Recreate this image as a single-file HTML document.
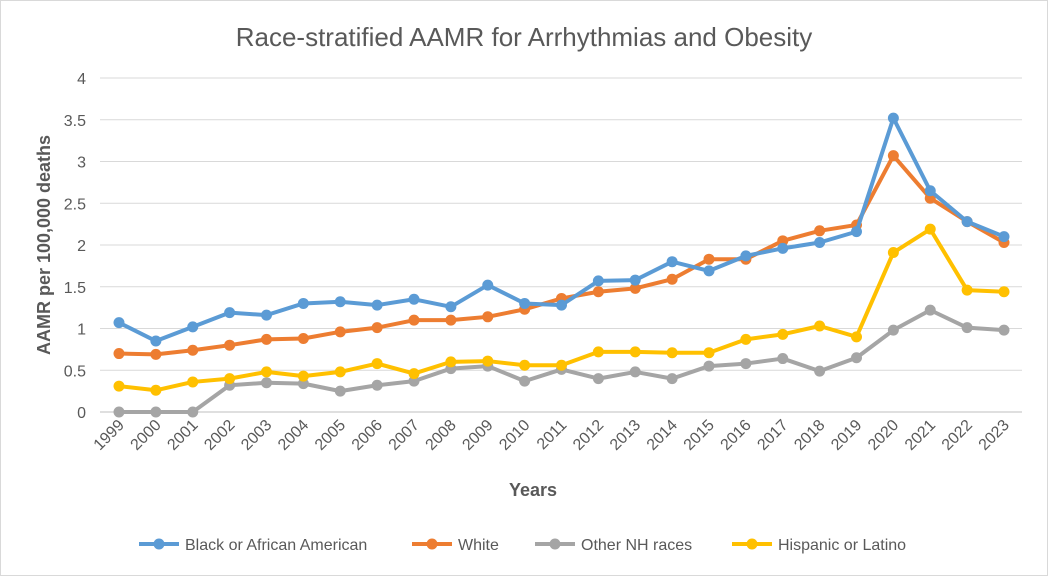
<!DOCTYPE html>
<html><head><meta charset="utf-8"><style>
html,body{margin:0;padding:0;background:#fff}
svg{display:block;font-family:"Liberation Sans",Calibri,sans-serif}
</style></head><body>
<svg id="c" width="1048" height="576" xmlns="http://www.w3.org/2000/svg">
<rect x="0.5" y="0.5" width="1047" height="575" fill="#fff" stroke="#d9d9d9"/>
<text x="524" y="46" text-anchor="middle" font-size="26" fill="#595959">Race-stratified AAMR for Arrhythmias and Obesity</text>
<text transform="translate(50,245) rotate(-90)" text-anchor="middle" font-size="18" font-weight="bold" fill="#595959">AAMR per 100,000 deaths</text>
<text x="533" y="496" text-anchor="middle" font-size="18" font-weight="bold" fill="#595959">Years</text>
<g id="g"></g>
</svg>
<script>
var g=document.getElementById('g'),h='';
function Y(v){return 412-v*83.5}function X(i){return 119+i*36.875}
for(var k=0;k<=8;k++){var v=k/2,y=Y(v);h+='<line x1="100" x2="1022" y1="'+y+'" y2="'+y+'" stroke="'+(k==0?'#bfbfbf':'#d9d9d9')+'"/>';
h+='<text x="86" y="'+(y+6)+'" text-anchor="end" font-size="16" fill="#595959">'+v+'</text>';}
for(var i=0;i<25;i++){var x=X(i);h+='<text transform="translate('+(x+6)+',426) rotate(-45)" text-anchor="end" font-size="16" fill="#595959">'+(1999+i)+'</text>';}
var S=[
["#5b9bd5",[1.07,0.85,1.02,1.19,1.16,1.30,1.32,1.28,1.35,1.26,1.52,1.30,1.28,1.57,1.58,1.80,1.69,1.87,1.96,2.03,2.16,3.52,2.65,2.28,2.10],"Black or African American"],
["#ed7d31",[0.70,0.69,0.74,0.80,0.87,0.88,0.96,1.01,1.10,1.10,1.14,1.23,1.36,1.44,1.48,1.59,1.83,1.83,2.05,2.17,2.24,3.07,2.56,2.28,2.03],"White"],
["#a5a5a5",[0,0,0,0.32,0.35,0.34,0.25,0.32,0.37,0.52,0.55,0.37,0.51,0.40,0.48,0.40,0.55,0.58,0.64,0.49,0.65,0.98,1.22,1.01,0.98],"Other NH races"],
["#ffc000",[0.31,0.26,0.36,0.40,0.48,0.43,0.48,0.58,0.46,0.60,0.61,0.56,0.56,0.72,0.72,0.71,0.71,0.87,0.93,1.03,0.90,1.91,2.19,1.46,1.44],"Hispanic or Latino"]];
var order=[2,3,1,0];
order.forEach(function(j){var s=S[j],p=s[1].map(function(v,i){return X(i)+','+Y(v)}).join(' ');
h+='<polyline points="'+p+'" fill="none" stroke="'+s[0]+'" stroke-width="4" stroke-linejoin="round"/>';
s[1].forEach(function(v,i){h+='<circle cx="'+X(i)+'" cy="'+Y(v)+'" r="5.5" fill="'+s[0]+'"/>';});});
var lx=[139,412,535,732];
S.forEach(function(s,j){var x=lx[j];h+='<line x1="'+x+'" x2="'+(x+40)+'" y1="544" y2="544" stroke="'+s[0]+'" stroke-width="4"/><circle cx="'+(x+20)+'" cy="544" r="5.5" fill="'+s[0]+'"/><text x="'+(x+46)+'" y="550" font-size="16" fill="#595959">'+s[2]+'</text>';});
g.innerHTML=h;
</script>
</body></html>
